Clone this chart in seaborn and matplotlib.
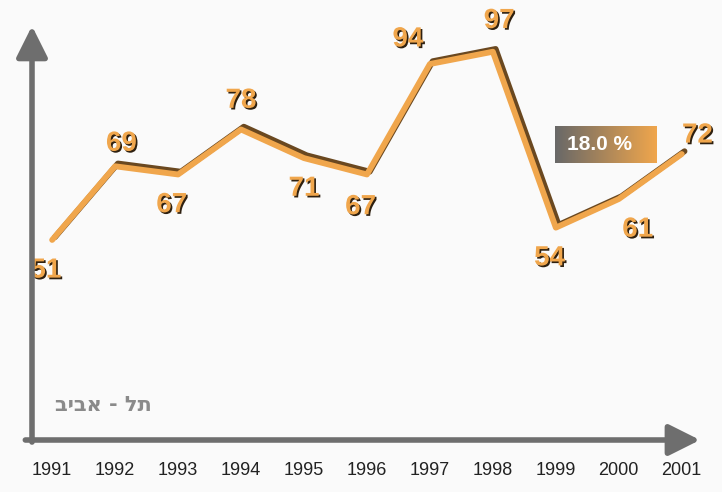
import numpy as np
import pandas as pd
import seaborn as sns
import matplotlib.pyplot as plt
import matplotlib.patheffects as pe
from matplotlib.colors import LinearSegmentedColormap

# data
years = [1991, 1992, 1993, 1994, 1995, 1996, 1997, 1998, 1999, 2000, 2001]
values = [51, 69, 67, 78, 71, 67, 94, 97, 54, 61, 72]
# where each value label sits relative to its point (dx in years, dy in value units)
label_dx = [-0.1, 0.1, -0.1, 0.0, 0.0, -0.1, -0.35, 0.1, -0.1, 0.3, 0.25]
label_dy = [-7.5, 5.5, -7.5, 7.0, -7.5, -8.0, 6.0, 7.5, -7.5, -7.5, 4.5]
change_label = "18.0 %"
city = "ביבא - לת"  # "תל - אביב" in visual (left-to-right) order

df = pd.DataFrame({"year": years, "value": values})

sns.set_style("white")
plt.rcParams["font.family"] = ["Liberation Sans", "DejaVu Sans"]

bg = "#fafafa"
orange = "#f0a64c"
dark = "#6a4820"
axis_col = "#6e6e6e"

fig = plt.figure(figsize=(7.22, 4.92), dpi=100, facecolor=bg)
ax = fig.add_axes([32 / 722, 52 / 492, 668 / 722, 412 / 492])
ax.set_facecolor(bg)

sns.lineplot(data=df, x="year", y="value", ax=ax, color=orange, lw=4.2,
             path_effects=[pe.SimpleLineShadow(offset=(2, 2), shadow_color=dark, alpha=1, rho=1),
                           pe.Normal()])

for x, y, dx, dy in zip(years, values, label_dx, label_dy):
    ax.text(x + dx, y + dy, str(y), ha="center", va="center", fontsize=20,
            fontweight="bold", color=orange,
            path_effects=[pe.SimplePatchShadow(offset=(1.2, -1.2), shadow_rgbFace="#2e2010", alpha=1),
                          pe.Normal()])

ax.set_xlim(1990.68, 2001.29)
ax.set_ylim(2.1, 102.8)
for s in ax.spines.values():
    s.set_visible(False)
ax.set_yticks([])
ax.set_xticks(years)
ax.set_xticklabels([str(y) for y in years], fontsize=13, color="#222222")
ax.tick_params(axis="x", length=0, pad=16)
ax.set_xlabel("")
ax.set_ylabel("")

# axis arrows
arrow = dict(arrowstyle="-|>,head_length=1.0,head_width=0.5", lw=4, color=axis_col,
             mutation_scale=19, shrinkA=0, shrinkB=0)
ax.annotate("", xy=(0, 1.005), xytext=(0, -0.005), xycoords="axes fraction",
            arrowprops=arrow, annotation_clip=False)
ax.annotate("", xy=(1, 0), xytext=(-0.01, 0), xycoords="axes fraction",
            arrowprops=arrow, annotation_clip=False)

ax.text(0.035, 0.085, city, transform=ax.transAxes, fontsize=15, fontweight="bold",
        color="#8a8a8a", family=["DejaVu Sans"], ha="left", va="center")

# gradient box with the change figure
bax = fig.add_axes([555 / 722, (492 - 163) / 492, 102 / 722, 37 / 492])
cmap = LinearSegmentedColormap.from_list("g", ["#686868", "#f0a64c"])
bax.imshow(np.linspace(0, 1, 256).reshape(1, -1), cmap=cmap, aspect="auto")
bax.axis("off")
bax.text(0.44, 0.5, change_label, transform=bax.transAxes, ha="center", va="center",
         fontsize=15, fontweight="bold", color="white")

fig.savefig("out.png", dpi=100, facecolor=bg)
